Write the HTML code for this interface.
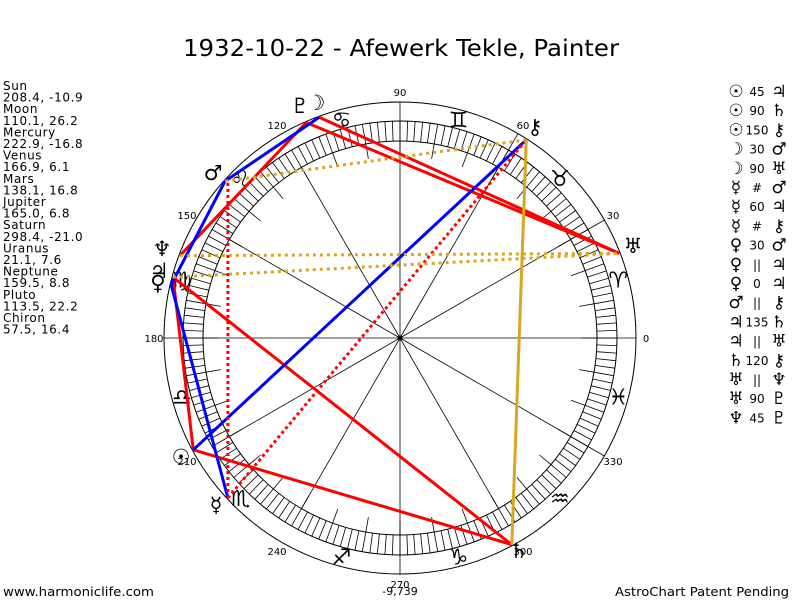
<!DOCTYPE html>
<html><head><meta charset="utf-8"><style>
html,body{margin:0;padding:0;background:#fff;width:800px;height:600px;overflow:hidden}
svg{display:block}
text{font-family:"DejaVu Sans","Liberation Sans",sans-serif}
</style></head><body>
<svg id="s" width="800" height="600" xmlns="http://www.w3.org/2000/svg">
<rect width="800" height="600" fill="#fff"/>
<text x="183" y="56" font-size="23" textLength="436" lengthAdjust="spacingAndGlyphs">1932-10-22 - Afewerk Tekle, Painter</text>
<g id="g"></g>
<text x="3" y="596" font-size="12" textLength="151" lengthAdjust="spacingAndGlyphs">www.harmoniclife.com</text>
<text x="615" y="596" font-size="12" textLength="174" lengthAdjust="spacingAndGlyphs">AstroChart Patent Pending</text>
<text x="400" y="595" font-size="11" text-anchor="middle">-9,739</text>
</svg>
<script>
var g=document.getElementById('g'),h='';
var cx=400,cy=338;
function P(a,r){var t=a*Math.PI/180;return [cx+r*Math.cos(t),cy-r*Math.sin(t)];}
function L(p,q,c,w,d){h+='<line x1="'+p[0].toFixed(1)+'" y1="'+p[1].toFixed(1)+'" x2="'+q[0].toFixed(1)+'" y2="'+q[1].toFixed(1)+'" stroke="'+c+'" stroke-width="'+w+'"'+(d?' stroke-dasharray="'+d+'"':'')+'/>';}
function T(x,y,s,fs,anc,extra){h+='<text x="'+x+'" y="'+y+'" font-size="'+fs+'"'+(anc?' text-anchor="'+anc+'"':'')+(extra||'')+'>'+s+'</text>';}
h+='<circle cx="400" cy="338" r="236" fill="none" stroke="#000"/>';
h+='<circle cx="400" cy="338" r="217" fill="none" stroke="#000"/>';
h+='<circle cx="400" cy="338" r="197" fill="none" stroke="#000"/>';
for(var a=0;a<360;a+=2){L(P(a,197),P(a,217),'#000',0.8);}
for(var a=0;a<360;a+=10){L(P(a,182),P(a,197),'#000',0.8);}
for(var a=0;a<360;a+=30){var e=(a%90==0||a==30||a==330||a==60)?236:197;L(P(a,0),P(a,e),'#000',0.8);}
h+='<circle cx="400" cy="338" r="2.5" fill="#000"/>';
for(var a=0;a<360;a+=30){var p=P(a,246);T(p[0],p[1]+4,a,10,'middle');}
var signs=['♈','♉','♊','♋','♌','♍','♎','♏','♐','♑','♒','♓'];
for(var i=0;i<12;i++){var p=P(15+30*i,226);T(p[0],p[1]+8,signs[i],22,'middle');}
var pl={su:208.4,mo:110.1,me:222.9,ve:166.9,ma:138.1,ju:165.0,sa:298.4,ur:21.1,ne:159.5,pl:113.5,ch:57.5};
function Q(k){return P(pl[k],235);}
var R='#f00',B='#00f',G='#daa520';
L(Q('su'),Q('sa'),R,3);L(Q('ju'),Q('sa'),R,3);L(Q('mo'),Q('ur'),R,3);L(Q('pl'),Q('ur'),R,3);
L(Q('pl'),Q('ne'),R,3);L(Q('ju'),Q('su'),R,3);
L(Q('mo'),Q('ma'),B,3);L(Q('ma'),Q('ve'),B,3);L(Q('ve'),Q('me'),B,3);L(Q('su'),Q('ch'),B,3);
L(Q('me'),[Q('me')[0],Q('ma')[1]],R,3,'3,3');L(Q('me'),Q('ch'),R,3,'3,3');
L(Q('ma'),Q('ch'),G,3,'3,4');L(Q('ju'),Q('ur'),G,3,'3,4');L(Q('ne'),Q('ur'),G,3,'3,4');
L(Q('sa'),Q('ch'),G,3);
var gl=[['☉',181,464],['☽',316,110],['☿',216,512],['♀',158,290],['♂',213,180],['♃',159,278],['♄',519,558],['♅',633,253],['♆',162,256],['♇',300,113],['⚷',535,134]];
gl.forEach(function(x){T(x[1],x[2],x[0],21,'middle');});
var lines=['Sun','208.4, -10.9','Moon','110.1, 26.2','Mercury','222.9, -16.8','Venus','166.9, 6.1','Mars','138.1, 16.8','Jupiter','165.0, 6.8','Saturn','298.4, -21.0','Uranus','21.1, 7.6','Neptune','159.5, 8.8','Pluto','113.5, 22.2','Chiron','57.5, 16.4'];
lines.forEach(function(s,i){T(3,90+i*11.6,s,12,'',' letter-spacing="0.6"');});
var asp=[['☉','45','♃'],['☉','90','♄'],['☉','150','⚷'],['☽','30','♂'],['☽','90','♅'],['☿','#','♂'],['☿','60','♃'],['☿','#','⚷'],['♀','30','♂'],['♀','||','♃'],['♀','0','♃'],['♂','||','⚷'],['♃','135','♄'],['♃','||','♅'],['♄','120','⚷'],['♅','||','♆'],['♅','90','♇'],['♆','45','♇']];
asp.forEach(function(a,i){var y=97+i*19.2;T(736,y,a[0],17,'middle');T(757,y-1,a[1],12,'middle');T(779,y,a[2],17,'middle');});
g.innerHTML=h;
</script>
</body></html>
